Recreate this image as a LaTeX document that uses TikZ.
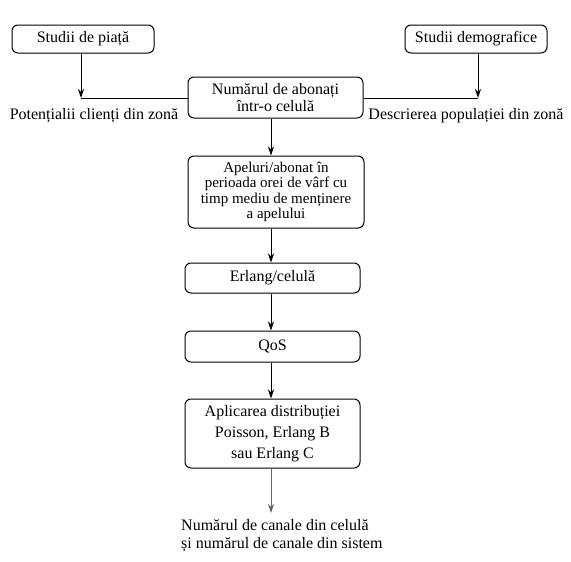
\documentclass[tikz,border=0pt]{standalone}
\usepackage{fontspec}
\setmainfont{Liberation Serif}
\usetikzlibrary{arrows.meta}
\begin{document}
\begin{tikzpicture}[x=1pt,y=-1pt,
  box/.style={draw,line width=1pt,rounded corners=6pt,inner sep=0pt,align=center,
    font=\fontsize{16}{17}\selectfont},
  lbl/.style={inner sep=0pt,font=\fontsize{16}{18}\selectfont},
  ln/.style={line width=1pt},
  arr/.style={line width=1pt,-{Stealth[length=9pt,width=6pt]}}]
\useasboundingbox (0,0) rectangle (571,562);
\node[box,minimum width=142pt,minimum height=28pt] (sp) at (83,39) {Studii de piață};
\node[box,minimum width=142pt,minimum height=28pt] (sd) at (476,39) {Studii demografice};
\node[box,minimum width=175pt,minimum height=41pt] (num) at (275.5,97.5) {Numărul de abonați\\într-o celulă};
\node[box,minimum width=176pt,minimum height=72pt,font=\fontsize{15}{15.5}\selectfont] (ap) at (276,192) {Apeluri/abonat în\\perioada orei de vârf cu\\timp mediu de menținere\\a apelului};
\node[box,minimum width=175pt,minimum height=30pt] (er) at (272.5,278) {Erlang/celulă};
\node[box,minimum width=175pt,minimum height=31pt] (qos) at (272.5,346.5) {QoS};
\node[box,minimum width=175pt,minimum height=69pt,font=\fontsize{16}{21}\selectfont] (apl) at (272.5,433.5) {Aplicarea distribuției\\Poisson, Erlang B\\sau Erlang C};
\node[lbl] (pc) at (94,116) {Potențialii clienți din zonă};
\node[lbl] (dp) at (466,116) {Descrierea populației din zonă};
\node[lbl,anchor=west,align=left] (fin) at (181,536) {Numărul de canale din celulă\\și numărul de canale din sistem};
\coordinate (jl) at (81,98);
\coordinate (jr) at (478,98);
\coordinate (axis) at (271,0);
\coordinate (fe) at (271,513);
\draw[arr] (sp.south -| jl) -- (jl);
\draw[ln] (jl) -- (num.west |- jl);
\draw[arr] (sd.south -| jr) -- (jr);
\draw[ln] (jr) -- (num.east |- jr);
\draw[arr] (num.south -| axis) -- (ap.north -| axis);
\draw[arr] (ap.south -| axis) -- (er.north -| axis);
\draw[arr] (er.south -| axis) -- (qos.north -| axis);
\draw[arr] (qos.south -| axis) -- (apl.north -| axis);
\draw[arr,draw=black!60,fill=black!60] (apl.south -| axis) -- (fe);
\end{tikzpicture}
\end{document}
